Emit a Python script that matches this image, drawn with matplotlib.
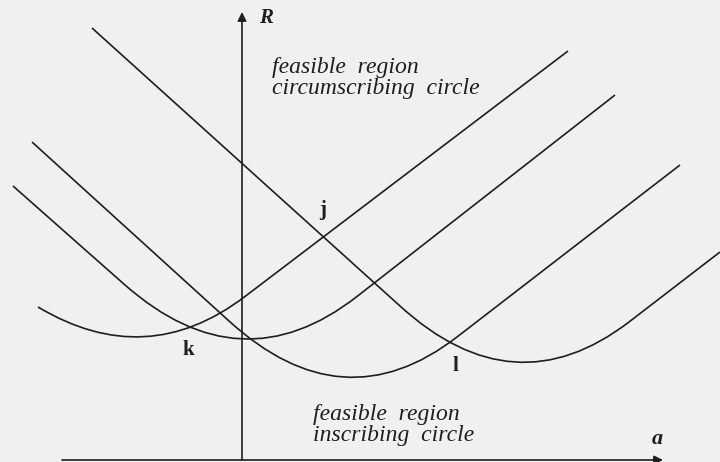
import matplotlib.pyplot as plt
from matplotlib.path import Path
from matplotlib.patches import PathPatch

# each curve: start, corner start, corner control, corner end, end  (a, R)
curve_k = [(-20.4, 15.3), (-20.4, 15.3), (-9.6, 8.83), (0.3, 16.35), (32.6, 40.9)]
curve_m = [(-22.9, 27.4), (-11.7, 17.5), (-0.1, 7.3), (11.5, 16.35), (37.3, 36.5)]
curve_n = [(-21.0, 31.8), (-1.3, 13.9), (10.1, 3.5), (21.5, 12.3), (43.8, 29.5)]
curve_j = [(-15.0, 43.2), (15.8, 15.4), (27.2, 5.0), (38.7, 13.8), (47.8, 20.8)]

point_labels = ["j", "k", "l"]
label_pos = [(8.1, 25.0), (-5.4, 11.0), (21.3, 9.4)]

ink = "#1e1e1e"
bg = "#f0f0ef"

plt.rcParams["font.family"] = ["Liberation Serif", "DejaVu Serif"]

fig = plt.figure(figsize=(7.2, 4.62), dpi=100, facecolor=bg)
ax = fig.add_axes([0, 0, 1, 1])
ax.set_facecolor(bg)
ax.set_xlim(-24.2, 47.8)
ax.set_ylim(-0.2, 46.0)
ax.axis("off")

codes = [Path.MOVETO, Path.LINETO, Path.CURVE3, Path.CURVE3, Path.LINETO]
for pts in [curve_k, curve_m, curve_n, curve_j]:
    ax.add_patch(PathPatch(Path(pts, codes), fill=False, edgecolor=ink, lw=1.2))

# coordinate axes
arrow = dict(arrowstyle="-|>", color=ink, lw=1.2, mutation_scale=13, shrinkA=0, shrinkB=0)
ax.annotate("", xy=(42.1, 0.0), xytext=(-18.0, 0.0), arrowprops=arrow)
ax.annotate("", xy=(0.0, 44.8), xytext=(0.0, 0.0), arrowprops=arrow)
ax.text(2.4, 44.2, "R", fontsize=15, style="italic", fontweight="bold", color=ink,
        ha="center", va="center")
ax.text(41.5, 2.1, "a", fontsize=16, style="italic", fontweight="bold", color=ink,
        ha="center", va="center")

ax.text(3.0, 38.2, "feasible  region\ncircumscribing  circle", fontsize=17,
        style="italic", color=ink, ha="left", va="center", linespacing=1.0)
ax.text(7.1, 3.5, "feasible  region\ninscribing  circle", fontsize=17,
        style="italic", color=ink, ha="left", va="center", linespacing=1.05)

for s, (x, y) in zip(point_labels, label_pos):
    ax.text(x, y, s, fontsize=15, fontweight="bold", color=ink, ha="center", va="center")

fig.savefig("out.png", dpi=100, facecolor=bg)
